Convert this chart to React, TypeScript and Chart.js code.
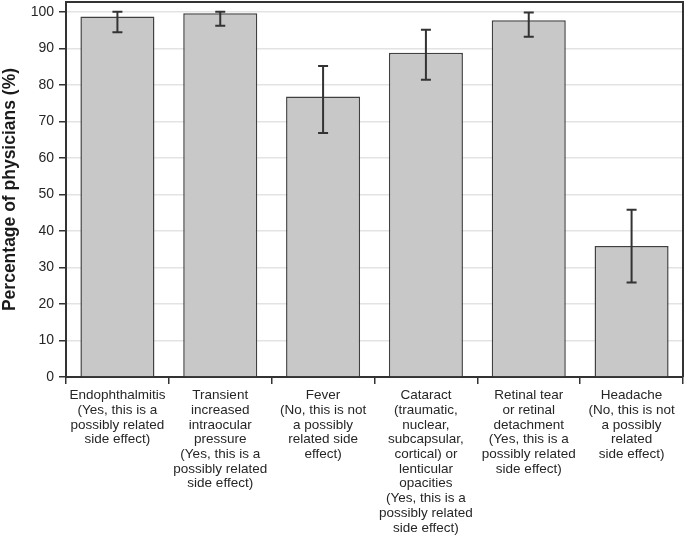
import React, { useEffect, useRef } from "react";
import { Chart, registerables } from "chart.js";

Chart.register(...registerables);

const categories: string[][] = [
  ["Endophthalmitis", "(Yes, this is a", "possibly related", "side effect)"],
  ["Transient", "increased", "intraocular", "pressure", "(Yes, this is a", "possibly related", "side effect)"],
  ["Fever", "(No, this is not", "a possibly", "related side", "effect)"],
  ["Cataract", "(traumatic,", "nuclear,", "subcapsular,", "cortical) or", "lenticular", "opacities", "(Yes, this is a", "possibly related", "side effect)"],
  ["Retinal tear", "or retinal", "detachment", "(Yes, this is a", "possibly related", "side effect)"],
  ["Headache", "(No, this is not", "a possibly", "related", "side effect)"],
];
const values: number[] = [98.7, 99.6, 76.8, 88.8, 97.7, 35.9];
const errLow: number[] = [94.4, 96.2, 66.8, 81.4, 93.2, 25.9];
const errHigh: number[] = [100, 100, 85.2, 95.1, 99.8, 45.8];
const yTitle = "Percentage of physicians (%)";

const errorBarPlugin = {
  id: "errorBars",
  afterDatasetsDraw(chart: any) {
    const ctx = chart.ctx;
    const meta = chart.getDatasetMeta(0);
    const ys = chart.scales.y;
    ctx.save();
    ctx.strokeStyle = "#333333";
    ctx.lineWidth = 2;
    meta.data.forEach((bar: any, i: number) => {
      const x = bar.x;
      const yl = ys.getPixelForValue(errLow[i]);
      const yh = ys.getPixelForValue(errHigh[i]);
      ctx.beginPath();
      ctx.moveTo(x, yl);
      ctx.lineTo(x, yh);
      ctx.moveTo(x - 5, yl);
      ctx.lineTo(x + 5, yl);
      ctx.moveTo(x - 5, yh);
      ctx.lineTo(x + 5, yh);
      ctx.stroke();
    });
    ctx.restore();
  },
  afterDraw(chart: any) {
    const { ctx, chartArea } = chart;
    ctx.save();
    ctx.strokeStyle = "#333333";
    ctx.lineWidth = 2;
    ctx.beginPath();
    ctx.moveTo(chartArea.left, chartArea.top);
    ctx.lineTo(chartArea.right, chartArea.top);
    ctx.lineTo(chartArea.right, chartArea.bottom);
    ctx.stroke();
    ctx.restore();
  },
};

export default function App() {
  const ref = useRef<HTMLCanvasElement>(null);
  useEffect(() => {
    document.body.style.margin = "0";
    const chart = new Chart(ref.current!, {
      type: "bar",
      data: {
        labels: categories,
        datasets: [
          {
            data: values,
            backgroundColor: "#c8c8c8",
            borderColor: "#404040",
            borderWidth: 1.5,
            categoryPercentage: 0.72,
            barPercentage: 1,
          },
        ],
      },
      options: {
        animation: false,
        responsive: false,
        layout: { padding: { top: 2, right: 2, left: 0, bottom: 0 } },
        plugins: { legend: { display: false }, tooltip: { enabled: false } },
        scales: {
          x: {
            grid: { drawOnChartArea: false, tickColor: "#333333", tickLength: 7, lineWidth: 1.5 },
            border: { color: "#333333", width: 2 },
            ticks: {
              color: "#262626",
              font: { family: "'Liberation Sans', Arial, sans-serif", size: 13.5, lineHeight: 1.09 },
              maxRotation: 0,
              autoSkip: false,
              padding: 4,
            },
            afterFit: (s: any) => {
              s.height = 161;
            },
          },
          y: {
            min: 0,
            max: 102.7,
            grid: { color: "#e3e3e3", lineWidth: 1.5, tickColor: "#333333", tickLength: 7 },
            border: { color: "#333333", width: 2 },
            ticks: {
              stepSize: 10,
              includeBounds: false,
              color: "#262626",
              padding: 5,
              font: { family: "'Liberation Sans', Arial, sans-serif", size: 14, lineHeight: 0.1 },
            },
            title: {
              display: true,
              text: yTitle,
              color: "#1a1a1a",
              padding: 0,
              font: { family: "'Liberation Sans', Arial, sans-serif", size: 17.5, weight: "bold" },
            },
            afterFit: (s: any) => {
              s.width = 66;
              s.paddingTop = 0;
              s.paddingBottom = 0;
            },
          },
        },
      },
      plugins: [errorBarPlugin],
    } as any);
    return () => chart.destroy();
  }, []);
  return (
    <div style={{ width: 685, height: 538 }}>
      <canvas ref={ref} width={685} height={538} style={{ display: "block" }} />
    </div>
  );
}
